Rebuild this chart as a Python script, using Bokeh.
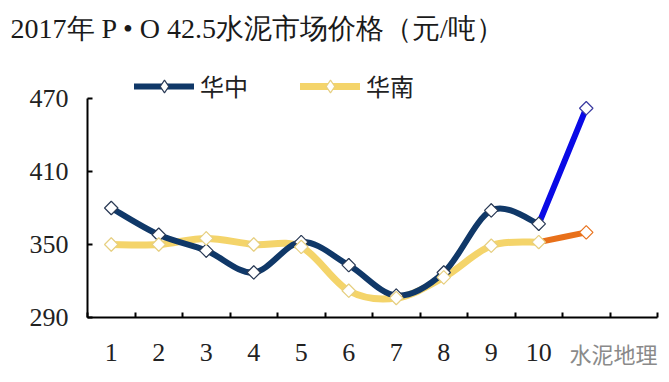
from bokeh.plotting import figure
from bokeh.models import FixedTicker, Legend, LegendItem, ColumnDataSource
from bokeh.embed import file_html
from bokeh.resources import INLINE
import math

# ---- data ----
months = [1, 2, 3, 4, 5, 6, 7, 8, 9, 10]
next_months = [10, 11]
tick_labels = ["1", "2", "3", "4", "5", "6", "7", "8", "9", "10"]
huazhong = [380, 358, 345, 327, 352, 333, 308, 327, 378, 367]
huazhong_next = [367, 462]
huanan = [350, 350, 355, 350, 348, 312, 306, 323, 349, 352]
huanan_next = [352, 360]
y_ticks = [290, 350, 410, 470]

NAVY = "#103868"
YELLOW = "#F4D46A"
BLUE = "#0A0AE6"
ORANGE = "#E8701A"


def smooth_segments(xs, ys):
    n = len(xs)
    d = dict(x0=[], y0=[], x1=[], y1=[], cx0=[], cy0=[], cx1=[], cy1=[])
    for i in range(n - 1):
        a = max(i - 1, 0)
        b = min(i + 2, n - 1)
        d["x0"].append(xs[i]); d["y0"].append(ys[i])
        d["x1"].append(xs[i + 1]); d["y1"].append(ys[i + 1])
        d["cx0"].append(xs[i] + (xs[i + 1] - xs[a]) / 6.0)
        d["cy0"].append(ys[i] + (ys[i + 1] - ys[a]) / 6.0)
        d["cx1"].append(xs[i + 1] - (xs[b] - xs[i]) / 6.0)
        d["cy1"].append(ys[i + 1] - (ys[b] - ys[i]) / 6.0)
    return ColumnDataSource(d)


# frame: 290 at the bottom, 470 some 48px below the frame top; the headroom holds the legend
p = figure(width=669, height=382, x_range=(0.5, 12.5), y_range=(290, 509.45),
           output_backend="svg", toolbar_location=None,
           title="2017年 P • O 42.5水泥市场价格（元/吨）",
           min_border_left=87, min_border_right=12, min_border_top=50, min_border_bottom=65)
p.outline_line_color = None
p.grid.grid_line_color = None
p.background_fill_color = "white"

p.title.text_font = "Liberation Serif"
p.title.text_font_size = "28px"
p.title.text_font_style = "normal"
p.title.text_color = "#1a1a1a"
p.title.align = "left"
p.title.offset = -77
p.title.standoff = 13

bz = dict(x0="x0", y0="y0", x1="x1", y1="y1", cx0="cx0", cy0="cy0", cx1="cx1", cy1="cy1")
r_hn = p.bezier(source=smooth_segments(months, huanan), line_color=YELLOW, line_width=7, line_cap="round", **bz)
p.bezier(source=smooth_segments(next_months, huanan_next), line_color=ORANGE, line_width=6, line_cap="round", **bz)
r_hz = p.bezier(source=smooth_segments(months, huazhong), line_color=NAVY, line_width=6, line_cap="round", **bz)
p.bezier(source=smooth_segments(next_months, huazhong_next), line_color=BLUE, line_width=6, line_cap="round", **bz)

# diamond markers (the legend shows these; the rotated squares drawn over them give the plot's marks)
dm = dict(marker="diamond", size=13, fill_color="white", line_width=1.2)
d_hz = p.scatter(months, huazhong, line_color="#2a3a55", **dm)
d_hn = p.scatter(months, huanan, line_color="#E6CF80", **dm)

mk = dict(marker="square", angle=math.pi / 4, size=9.5, fill_color="white", line_width=1.2)
p.scatter(months, huazhong, line_color="#2a3a55", **mk)
p.scatter(months, huanan, line_color="#E6CF80", **mk)
p.scatter(next_months[1:], huazhong_next[1:], line_color="#3a3aa0", **mk)
p.scatter(next_months[1:], huanan_next[1:], line_color=ORANGE, **mk)

legend = Legend(items=[LegendItem(label="华中", renderers=[r_hz, d_hz]),
                       LegendItem(label="华南", renderers=[r_hn, d_hn])],
                orientation="horizontal", location=(47, 214),
                glyph_width=60, glyph_height=32, label_standoff=6, spacing=52,
                padding=0, margin=0, border_line_color=None, background_fill_alpha=0,
                label_text_font="Noto Sans CJK SC", label_text_font_size="24px",
                label_text_color="#222222")
p.add_layout(legend, "center")

# axes
xa = p.xaxis[0]
xa.ticker = FixedTicker(ticks=months, minor_ticks=[0.5 + i for i in range(13)])
xa.major_label_overrides = {m: t for m, t in zip(months, tick_labels)}
xa.major_tick_line_color = None
xa.minor_tick_in = 5
xa.minor_tick_out = 0
xa.minor_tick_line_width = 2
xa.minor_tick_line_color = "black"
xa.axis_line_width = 2
xa.axis_line_color = "black"
xa.major_label_standoff = 20
xa.major_label_text_font = "Liberation Serif"
xa.major_label_text_font_size = "26px"
xa.major_label_text_color = "#222222"
xa.axis_label = "水泥地理\u3000\u3000\u3000\u3000"
xa.axis_label_align = "end"
xa.axis_label_standoff = -27
xa.axis_label_text_font = "Noto Sans CJK SC"
xa.axis_label_text_font_size = "22px"
xa.axis_label_text_font_style = "normal"
xa.axis_label_text_color = "#8a8a8a"

ya = p.yaxis[0]
ya.ticker = FixedTicker(ticks=y_ticks)
ya.bounds = (290, 470)
ya.major_tick_in = 5
ya.major_tick_out = 0
ya.major_tick_line_width = 2
ya.minor_tick_line_color = None
ya.axis_line_width = 2
ya.axis_line_color = "black"
ya.major_label_standoff = 19
ya.major_label_text_font = "Liberation Serif"
ya.major_label_text_font_size = "26px"
ya.major_label_text_color = "#222222"
# blank label that pads the axis panel to the full left border
ya.axis_label = "\u3000"
ya.axis_label_standoff = 0
ya.axis_label_text_font_size = "20px"

open("out.html", "w").write(file_html(p, INLINE))
